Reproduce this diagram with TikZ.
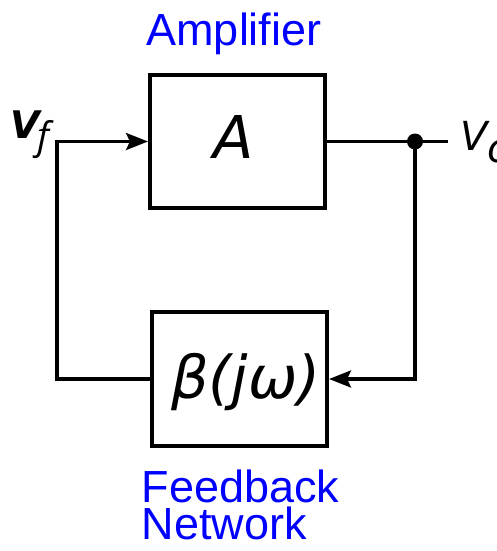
\RequirePackage{fix-cm}
\documentclass[tikz,border=0pt]{standalone}
\usepackage{fontspec}
\setmainfont{Liberation Sans}
\newfontfamily\dvfont{DejaVu Sans}
\newfontfamily\osfont{Open Sans}
\usetikzlibrary{arrows.meta}
\tikzset{
  blockbox/.style={draw, line width=4pt, minimum width=175pt, inner sep=0pt},
  wire/.style={line width=3.5pt},
  arrowwire/.style={wire, -{Stealth[length=22pt,width=17pt,inset=4pt]}},
  bluelabel/.style={text=blue, inner sep=0pt, font=\fontsize{45}{45}\selectfont},
  mathlabel/.style={inner sep=0pt, font=\dvfont\itshape},
  junction/.style={circle, fill, inner sep=0pt, minimum size=16pt}
}
\begin{document}
\begin{tikzpicture}[x=1pt,y=-1pt]
\useasboundingbox (0,0) rectangle (497,551);
% blocks
\node[blockbox, minimum height=133pt] (amp) at (237.5,141.5) {};
\node[blockbox, minimum height=134pt] (fb) at (239.5,379) {};
% labels inside blocks
\node[mathlabel, anchor=base, font=\dvfont\itshape\fontsize{59}{59}\selectfont] (Alab) at (234,158) {A};
\node[mathlabel, anchor=base, font=\dvfont\itshape\fontsize{59}{59}\selectfont] (blab) at (246,398) {β(jω)};
% blue captions
\node[bluelabel, anchor=base] (amptxt) at (234,46) {Amplifier};
\node[bluelabel, anchor=base west] (fbtxt1) at (141.5,502) {Feedback};
\node[bluelabel, anchor=base west] (fbtxt2) at (141.5,539) {Network};
% signal labels
\node[mathlabel, anchor=base west, font=\dvfont\bfseries\itshape\fontsize{38}{38}\selectfont] (vf) at (10,138) {V\hspace{-2pt}\raisebox{-11pt}{\osfont\mdseries\itshape\fontsize{38}{38}\selectfont f}};
\node[mathlabel, anchor=base west, font=\dvfont\itshape\fontsize{40}{40}\selectfont] (vo) at (460,150) {V\raisebox{-12pt}{o}};
% junction and coordinates
\node[junction] (j) at (415,141.5) {};
\coordinate (oend) at (448,141.5);
\coordinate (lt) at (57,141.5);
\coordinate (lb) at (57,379);
\coordinate (rb) at (415,379);
% connectors
\draw[wire] (amp.east) -- (oend);
\draw[arrowwire] (j.center) -- (rb) -- (fb.east);
\draw[arrowwire] (fb.west) -- (lb) -- (lt) -- (amp.west);
\end{tikzpicture}
\end{document}
